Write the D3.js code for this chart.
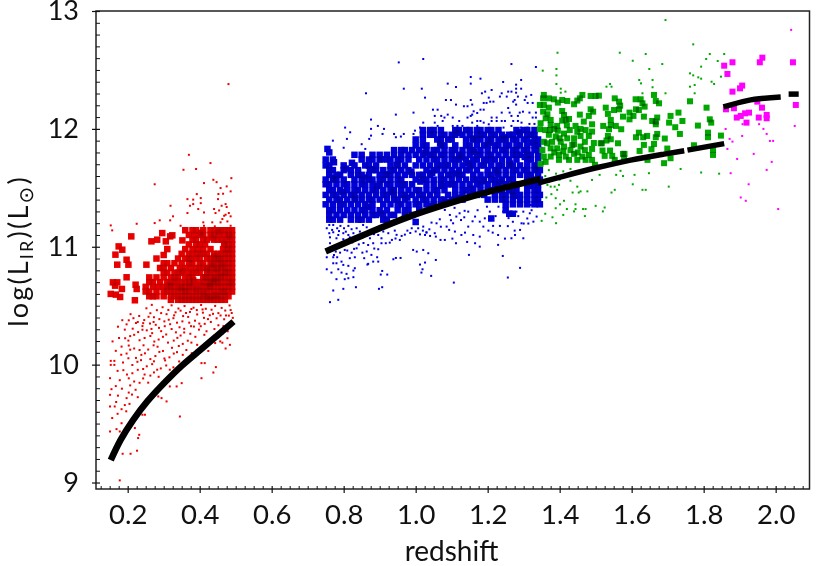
<!DOCTYPE html>
<html><head><meta charset="utf-8">
<script src="https://cdn.jsdelivr.net/npm/d3@7"></script>
<style>html,body{margin:0;background:#fff}svg{display:block}text{font-family:Lato,"Open Sans",sans-serif;fill:#111}</style>
</head><body><svg id="c" width="830" height="566"></svg>
<script>
const xMajor=[0.2,0.4,0.6,0.8,1.0,1.2,1.4,1.6,1.8,2.0];
const yMajor=[9,10,11,12,13];
const xLabel="redshift";

// Large marks listed row by row: [logL, [redshift, ...]]
const redBigRows=[
[11.14,[.36,.38,.39,.41,.43,.44,.45,.46,.47,.48,.49]],
[11.10,[.37,.385,.40,.41,.43,.44,.455,.47,.48,.49]],
[11.06,[.38,.39,.41,.42,.44,.45,.46,.475,.49]],
[11.02,[.37,.39,.40,.415,.47,.48,.49]],
[10.98,[.36,.38,.395,.41,.43,.465,.48,.49]],
[10.94,[.35,.37,.38,.40,.41,.42,.44,.45,.46,.47,.48,.49]],
[10.90,[.34,.36,.37,.39,.40,.42,.43,.44,.45,.46,.47,.48,.49]],
[10.86,[.31,.33,.35,.37,.38,.40,.41,.43,.44,.45,.46,.47,.48,.49]],
[10.82,[.29,.30,.32,.345,.36,.375,.39,.40,.41,.42,.43,.44,.45,.46,.47,.48,.49]],
[10.78,[.30,.31,.33,.34,.35,.37,.38,.39,.40,.42,.43,.44,.45,.46,.47,.48,.49]],
[10.74,[.26,.28,.30,.32,.33,.34,.36,.37,.38,.41,.42,.43,.44,.45,.46,.47,.48,.49]],
[10.70,[.26,.27,.29,.31,.32,.33,.35,.36,.37,.385,.40,.41,.42,.43,.44,.45,.46,.47,.48,.49]],
[10.66,[.25,.27,.285,.30,.31,.32,.33,.34,.35,.36,.37,.38,.39,.41,.42,.43,.44,.45,.46,.47,.48,.49]],
[10.62,[.25,.26,.28,.30,.31,.32,.33,.34,.35,.36,.37,.38,.39,.40,.41,.42,.43,.44,.45,.46,.47,.48,.49]],
[10.58,[.26,.27,.28,.30,.32,.33,.34,.35,.36,.37,.38,.39,.40,.41,.42,.43,.44,.45,.46,.47,.48]],
[10.55,[.32,.34,.35,.36,.37,.38,.39,.40,.41,.42,.43,.44,.45,.46,.47]]
];
const redBigPoints=[[.21,11.088],[.296,11.116],[.266,11.046],[.282,11.06],[.324,11.097],[.318,11.088],[.306,11.046],[.352,11.054],[.175,11.003],[.185,10.975],[.166,10.933],[.197,10.89],[.202,10.848],[.171,10.848],[.252,10.848],[.197,10.741],[.159,10.698],[.171,10.698],[.165,10.67],[.184,10.642],[.222,10.678],[.225,10.642],[.153,10.6],[.167,10.594],[.179,10.574],[.22,10.546],[.31,10.98],[.30,10.93],[.28,10.90],[.30,10.86],
[.437,10.713],[.443,10.728],[.429,10.686],[.451,10.693],[.416,10.741],[.458,10.752],[.403,10.668],[.447,10.811],[.422,10.803],[.435,10.846],[.463,10.838],[.455,10.892],[.441,10.917],[.427,10.663],[.393,10.637],[.412,10.603],[.382,10.715],[.372,10.682],[.361,10.624],[.348,10.651],[.475,10.973],[.468,11.033],[.483,11.083],[.452,11.123],[.436,11.078],[.404,11.118],[.392,10.942],[.376,10.893],[.353,10.793],[.338,10.71],[.317,10.673],[.473,10.784],[.487,10.693],[.466,10.617],[.445,10.588],[.426,10.571]];
const redSmall=[[.178,9.018],[.186,9.244],[.208,9.244],[.226,9.27],[.229,9.377],[.232,9.405],[.22,9.462],[.151,9.433],[.169,9.453],[.178,9.433],[.248,9.575],[.241,9.575],[.345,9.56],[.308,9.688],[.294,9.716],[.285,9.73],[.35,9.843],[.336,9.815],[.317,9.815],[.405,9.885],[.438,9.933],[.445,9.979],[.414,10.013],[.405,10.013],[.484,10.168],[.151,9.645],[.164,9.645],[.151,9.744],[.155,9.792],[.151,9.885],[.153,9.998],[.163,9.998],[.153,10.032],[.163,10.032],
[.355,11.653],[.275,11.53],[.438,11.568],[.447,11.548],[.412,11.54],[.488,11.582],[.475,11.512],[.458,11.498],[.452,11.447],[.465,11.45],[.486,11.47],[.392,11.447],[.366,11.404],[.382,11.4],[.403,11.413],[.382,11.362],[.403,11.37],[.451,11.404],[.472,11.362],[.461,11.348],[.475,11.337],[.319,11.348],[.373,11.348],[.396,11.32],[.44,11.32],[.454,11.308],[.412,11.291],[.366,11.286],[.444,11.286],[.326,11.258],[.468,11.263],[.486,11.258],[.318,11.224],[.289,11.224],[.41,11.207],[.435,11.207],[.458,11.207],[.225,11.195],[.275,11.201],[.153,11.181],[.347,11.178],[.412,11.178],[.477,11.215],[.486,11.178],[.157,11.139],[.442,11.173],[.463,11.235],[.481,11.286],[.472,11.272],[.48,12.38],[.37,11.78],[.43,11.71],[.39,11.66],
[.297,10.487],[.322,10.503],[.341,10.476],[.358,10.497],[.383,10.483],[.404,10.506],[.417,10.474],[.443,10.498],[.461,10.481],[.483,10.502],[.347,10.458],[.373,10.447],[.392,10.463],[.409,10.441],[.433,10.466],[.452,10.437],[.471,10.459],[.489,10.438],[.281,10.462],[.263,10.436],[.308,10.428],[.333,10.444],[.354,10.412],[.368,10.405],[.393,10.426],[.412,10.397],[.428,10.419],[.447,10.393],[.473,10.417],[.246,10.378],[.273,10.402],[.288,10.386],[.314,10.381],[.327,10.394],[.352,10.367],[.371,10.356],[.387,10.373],[.414,10.346],[.431,10.362],[.452,10.334],[.232,10.413],[.208,10.428],[.203,10.376],[.223,10.353],[.241,10.327],[.262,10.349],[.278,10.338],[.303,10.326],[.318,10.343],[.344,10.317],[.357,10.304],[.384,10.323],[.398,10.297],[.419,10.283],[.441,10.302],[.463,10.263],[.478,10.283],[.173,10.322],[.192,10.297],[.214,10.305],[.229,10.276],[.253,10.291],[.268,10.267],[.293,10.284],[.307,10.256],[.334,10.274],[.347,10.247],[.374,10.262],[.388,10.236],[.413,10.253],[.176,10.226],[.158,10.197],[.193,10.224],[.207,10.242],[.233,10.207],[.247,10.226],[.274,10.196],[.286,10.213],[.312,10.187],[.328,10.204],[.353,10.176],[.367,10.203],[.393,10.168],[.167,10.117],[.183,10.153],[.203,10.162],[.218,10.137],[.244,10.164],[.257,10.128],[.283,10.152],[.298,10.116],[.323,10.143],[.337,10.106],[.363,10.124],[.378,10.097],[.463,10.186],[.472,10.137],[.477,10.224],
[.182,10.084],[.197,10.094],[.223,10.057],[.238,10.083],[.263,10.047],[.277,10.073],[.304,10.036],[.316,10.062],[.343,10.027],[.187,10.018],[.213,9.997],[.227,10.024],[.253,9.986],[.268,10.004],[.292,9.968],[.307,9.993],[.327,9.977],[.172,9.947],[.188,9.953],[.213,9.927],[.228,9.956],[.247,9.916],[.273,9.934],[.286,9.897],[.178,9.868],[.203,9.884],[.218,9.857],[.243,9.883],[.257,9.847],[.167,9.818],[.184,9.796],[.207,9.824],[.222,9.787],[.173,9.737],[.197,9.716],[.212,9.746],[.168,9.683],[.192,9.657],[.157,9.547],[.172,9.583],[.183,9.503],[.196,9.604],
[.252,10.478],[.267,10.507],[.313,10.464],[.329,10.418],[.337,10.356],[.362,10.438],[.377,10.472],[.399,10.348],[.408,10.468],[.423,10.386],[.437,10.431],[.458,10.417],[.468,10.385],[.481,10.416],[.293,10.437],[.302,10.367],[.272,10.362],[.258,10.406],[.243,10.352],[.228,10.362],[.216,10.394],[.197,10.342],[.185,10.377],[.376,10.326],[.403,10.326],[.322,10.302],[.287,10.312],[.266,10.303],[.241,10.296],[.357,10.273],[.338,10.227],[.298,10.236],[.263,10.243],[.218,10.253],[.202,10.204],[.377,10.187],[.342,10.158],[.272,10.164],[.233,10.124],[.353,10.083],[.328,10.094],[.288,10.108],[.248,10.096],[.207,10.127],[.302,10.052],[.273,10.028],[.237,10.038],[.202,10.054],[.317,9.957],[.282,9.957],[.243,9.963],[.198,9.916],[.263,9.907],[.233,9.846],[.203,9.763],[.228,9.724],[.183,9.622],[.205,9.667],[.486,10.463],[.492,10.397],[.466,10.327],[.447,10.243],[.457,10.197],[.443,10.183],[.424,10.116]
];

const blueBigRows=[
[11.99,[1.02,1.04,1.05,1.07,1.11,1.12,1.14,1.15,1.17,1.18,1.20,1.21,1.23,1.28,1.30,1.31,1.33]],
[11.95,[1.02,1.04,1.05,1.07,1.08,1.10,1.11,1.13,1.15,1.17,1.18,1.19,1.21,1.22,1.24,1.26,1.27,1.29,1.31,1.32,1.33]],
[11.91,[1.00,1.02,1.06,1.07,1.09,1.10,1.14,1.16,1.17,1.18,1.20,1.21,1.23,1.24,1.25,1.27,1.28,1.30,1.31,1.33,1.34]],
[11.86,[1.00,1.02,1.03,1.07,1.08,1.11,1.14,1.15,1.17,1.19,1.20,1.22,1.23,1.25,1.26,1.28,1.29,1.31,1.33,1.34]],
[11.82,[.94,.96,.97,.99,1.01,1.03,1.05,1.06,1.08,1.10,1.11,1.13,1.15,1.16,1.18,1.20,1.22,1.24,1.25,1.27,1.28,1.30,1.31,1.33,1.345]],
[11.78,[.83,.85,.88,.90,.92,.94,.96,.98,1.00,1.02,1.04,1.05,1.07,1.08,1.10,1.12,1.13,1.15,1.17,1.18,1.20,1.21,1.23,1.25,1.27,1.28,1.29,1.31,1.32,1.34]],
[11.74,[.75,.77,.85,.87,.88,.90,.92,.93,.95,.96,.98,1.01,1.03,1.05,1.06,1.08,1.10,1.11,1.12,1.14,1.16,1.17,1.19,1.21,1.22,1.24,1.26,1.28,1.31,1.32,1.34]],
[11.69,[.75,.76,.80,.83,.86,.87,.89,.93,.95,.97,1.00,1.02,1.04,1.06,1.07,1.09,1.11,1.13,1.15,1.16,1.18,1.19,1.21,1.23,1.24,1.26,1.27,1.29,1.31,1.33,1.34]],
[11.65,[.76,.77,.80,.82,.84,.88,.89,.91,.93,.94,.96,.98,1.03,1.05,1.06,1.08,1.10,1.12,1.14,1.15,1.17,1.20,1.22,1.23,1.25,1.27,1.28,1.30,1.31,1.33,1.345]],
[11.61,[.76,.78,.79,.82,.84,.85,.87,.90,.92,.93,.95,.97,.99,1.01,1.02,1.04,1.07,1.09,1.10,1.12,1.13,1.16,1.18,1.20,1.21,1.23,1.25,1.27,1.29,1.31,1.32,1.34]],
[11.57,[.75,.77,.78,.80,.83,.85,.87,.88,.90,.91,.93,.95,.96,1.00,1.02,1.03,1.05,1.07,1.08,1.10,1.12,1.14,1.16,1.17,1.19,1.21,1.22,1.24,1.26,1.27,1.31,1.33,1.345]],
[11.53,[.75,.76,.78,.80,.81,.83,.85,.86,.88,.90,.92,.93,.95,.97,.99,1.03,1.05,1.07,1.09,1.10,1.11,1.13,1.15,1.17,1.18,1.20,1.22,1.23,1.25,1.27,1.28,1.31,1.33,1.34]],
[11.48,[.76,.77,.79,.81,.83,.84,.86,.88,.89,.91,.93,.94,.96,.98,1.00,1.01,1.03,1.05,1.06,1.08,1.11,1.13,1.14,1.16,1.18,1.20,1.21,1.23,1.24,1.26,1.28,1.31,1.33,1.34]],
[11.44,[.75,.77,.78,.80,.82,.83,.85,.87,.89,.91,.92,.94,.96,.97,.99,1.01,1.02,1.04,1.06,1.09,1.11,1.13,1.15,1.17,1.19,1.22,1.24,1.25,1.27,1.29,1.31,1.33,1.345]],
[11.40,[.76,.78,.79,.81,.83,.85,.87,.88,.90,.92,.94,.95,.97,1.00,1.02,1.03,1.05,1.07,1.08,1.10,1.11,1.13,1.20,1.22,1.24,1.25,1.27,1.29,1.31,1.33,1.34]],
[11.36,[.75,.77,.79,.80,.82,.84,.86,.88,.91,.93,.95,.96,.98,1.00,1.01,1.03,1.05,1.07,1.25,1.27,1.29,1.31,1.33,1.345]],
[11.31,[.76,.77,.79,.81,.83,.85,.86,.88,.90,.92,.95,.97,.98,1.01]],
[11.27,[.76,.78,.80,.82,.84,.86,.88,.89,.91,.93,.94,.97,.99]],
[11.23,[.76,.77,.79,.82,.84,.85,.87,.91,.92]]
];
const blueBigPoints=[[1.21,11.24],[1.26,11.28],[1.27,11.28],[1.0,11.21],[.755,11.83],[.76,11.8],[1.25,11.31],[1.27,11.47],
[.773,11.717],[.806,11.663],[.858,11.587],[.893,11.516],[.935,11.462],[.977,11.417],[1.013,11.553],[1.046,11.628],[1.083,11.693],[1.127,11.758],[1.163,11.803],[1.204,11.883],[1.246,11.928],[1.287,11.971],[1.325,11.884],[1.303,11.762],[1.262,11.706],[1.227,11.627],[1.187,11.556],[1.153,11.493],[1.118,11.416],[1.086,11.377],[1.044,11.344],[.903,11.283],[.868,11.339],[.832,11.412],[.797,11.466],[.772,11.587],[.823,11.712],[.905,11.742],[.947,11.694],[.988,11.637],[1.027,11.795],[1.068,11.876],[1.116,11.967],[1.158,11.918],[1.196,11.733],[1.235,11.553],[1.273,11.432],[1.316,11.517],[1.335,11.664],[.964,11.523],[.916,11.613],[.873,11.658],[1.074,11.517],[1.113,11.622],[1.146,11.708]];
const blueSmall=[[1.021,12.593],[.953,12.564],[1.266,12.55],[1.334,12.525],[1.153,12.44],[1.18,12.426],[1.293,12.415],[1.243,12.398],[1.089,12.384],[1.153,12.384],[1.112,12.355],[.967,12.341],[1.017,12.341],[1.279,12.375],[1.279,12.341],[1.293,12.341],[1.211,12.33],[1.193,12.316],[1.184,12.302],[.862,12.302],[1.257,12.316],[1.266,12.316],[1.279,12.307],[1.239,12.302],[1.321,12.288],[1.307,12.274],[1.284,12.274],[1.253,12.274],[1.234,12.274],[1.203,12.265],[1.026,12.265],[1.084,12.245],[1.098,12.245],[1.153,12.245],[1.275,12.245],[1.303,12.245],[1.216,12.231],[1.207,12.231],[1.197,12.22],[1.189,12.22],[1.271,12.231],[1.311,12.22],[1.325,12.22],[1.279,12.206],[1.157,12.206],[1.112,12.206],[1.134,12.192],[1.144,12.192],[1.257,12.177],[1.18,12.163],[1.189,12.163],[1.048,12.163],[1.061,12.163],[1.161,12.149],[.994,12.138],[.945,12.121],[1.089,12.121],[1.071,12.11],[1.053,12.11],[1.157,12.121],[1.171,12.135],[1.239,12.138],[1.261,12.138],[1.289,12.138],[1.298,12.146],[1.316,12.138],[1.334,12.138],[1.153,12.11],[1.144,12.096],[1.103,12.096],[1.08,12.096],[1.211,12.096],[1.225,12.096],[1.266,12.11],[1.284,12.11],[1.325,12.096],[1.334,12.096],[.876,12.079],[1.121,12.067],[1.075,12.067],[1.021,12.053],[1.053,12.053],[1.157,12.053],[1.171,12.067],[1.18,12.067],[1.189,12.053],[1.211,12.067],[1.225,12.067],[1.239,12.067],[1.248,12.067],[1.271,12.067],[1.284,12.067],[1.294,12.053],[1.316,12.042],[1.33,12.042],[.895,12.025],[1.103,12.025],[1.116,12.025],[1.13,12.025],[1.171,12.025],[1.203,12.039],[1.266,12.025],[1.061,12.025],[.804,12.011],[.876,12.0],[.912,12.0],[.998,11.985],[1.012,12.011],[1.23,12.0],[1.244,12.011],[1.293,12.011],[1.311,12.011],[.818,11.971],[.908,11.957],[.94,11.957],[.967,11.957],[.994,11.957],[.876,11.943],[.871,11.915],[.945,11.929],[.959,11.935],[.809,11.915],[.77,11.9],[.80,11.84],[.85,11.87],[.86,11.83],
[.753,11.157],[.76,11.185],[.771,11.185],[.782,11.157],[.791,11.177],[.801,11.157],[.813,11.177],[.822,11.149],[.836,11.157],[.854,11.185],[.864,11.165],[.76,11.115],[.771,11.123],[.785,11.1],[.799,11.115],[.813,11.1],[.827,11.115],[.845,11.129],[.859,11.115],[.878,11.137],[.762,11.08],[.78,11.072],[.799,11.064],[.817,11.08],[.836,11.08],[.854,11.092],[.873,11.072],[.896,11.1],[.91,11.129],[.924,11.115],[.942,11.137],[.753,10.911],[.771,10.911],[.782,10.911],[.778,10.959],[.79,10.95],[.803,10.973],[.822,10.95],[.836,10.987],[.852,10.95],[.868,11.015],[.882,11.03],[.905,11.072],[.905,11.03],[.896,10.979],[.877,10.931],[.893,10.911],[.896,10.874],[.868,10.855],[.882,10.874],[.831,10.911],[.817,10.903],[.794,10.874],[.78,10.86],[.771,10.86],[.799,10.846],[.813,10.838],[.831,10.818],[.827,10.798],[.753,10.809],[.766,10.781],[.785,10.809],[.794,10.781],[.808,10.77],[.827,10.742],[.813,10.733],[.803,10.725],[.78,10.725],[.834,10.657],[.799,10.643],[.771,10.629],[.785,10.55],[.762,10.53],[.907,10.795],[.903,10.764],[.921,10.764],[.898,10.643],[.907,10.657],[.866,10.849],[.938,10.894],[.945,10.905],[.958,10.905],[.857,10.903],[.928,11.035],[.956,11.058],[.993,10.973],[1.003,10.959],[1.021,10.973],[1.035,10.945],[1.056,10.888],[1.012,10.849],[1.026,10.866],[1.019,10.809],[1.016,10.781],[1.043,10.753],[1.106,10.696],[1.148,10.931],[1.242,10.922],[1.29,10.821],[1.256,10.739],[1.229,11.016],[1.178,11.001],[1.165,11.03],[1.143,11.041],[1.112,11.03],[1.102,11.069],[1.081,11.058],[1.069,11.058],[1.056,11.086],[1.04,11.092],[1.03,11.123],[1.02,11.137],[.977,11.137],[.961,11.092],[.947,11.101],[1.053,11.115],[1.03,11.12],[1.026,11.1],[1.093,11.143],[1.109,11.129],[1.127,11.1],[1.137,11.12],[1.16,11.1],[1.178,11.086],[1.202,11.137],[1.229,11.1],[1.248,11.069],[1.266,11.072],[1.275,11.137],[1.276,11.1],[1.299,11.072],[1.3,11.197],[1.313,11.197],[1.327,11.213],[1.29,11.143],[1.215,11.177],[1.234,11.177],[1.188,11.171],[1.146,11.171],[1.126,11.227],[1.104,11.199],[1.086,11.171],[1.058,11.199],[1.044,11.205],[1.021,11.171],[1.007,11.157],[.989,11.157],[1.067,11.233],[1.081,11.312],[1.095,11.27],[1.113,11.256],[1.122,11.284],[1.146,11.298],[1.165,11.256],[1.178,11.213],[1.192,11.241],[1.206,11.298],[1.23,11.34],[1.243,11.298],[1.28,11.298],[1.299,11.298],[1.32,11.355],[1.317,11.284],[1.336,11.256],[1.294,11.199],
[.768,11.143],[.787,11.133],[.806,11.128],[.843,11.087],[.866,11.096],[.884,11.107],[.762,11.03],[.775,11.0],[.79,11.013],[.808,11.024],[.824,11.037],[.842,11.02],[.855,11.032],[.773,10.93],[.81,10.968],[.829,10.982],[.864,10.96],[.885,10.985],[.917,11.03],[.934,11.058],[.944,11.07],[.97,11.103],[.985,11.117],[1.0,11.13],[1.012,11.105],[1.038,11.148],[1.07,11.17],[1.098,11.225],[1.135,11.25],[1.158,11.216],[1.208,11.225],[1.222,11.26],[1.258,11.243],[1.27,11.212],[1.285,11.26],[1.31,11.24],[1.322,11.31],[1.214,11.12],[1.256,11.175],[1.108,11.33],[1.136,11.305],[1.172,11.31],[1.198,11.34]];

const greenBig=[[1.356,12.288],[1.354,12.259],[1.37,12.259],[1.384,12.251],[1.395,12.223],[1.407,12.245],[1.421,12.237],[1.44,12.209],[1.449,12.24],[1.456,12.259],[1.463,12.288],[1.486,12.279],[1.5,12.279],[1.509,12.282],[1.553,12.259],[1.565,12.231],[1.568,12.197],[1.551,12.16],[1.565,12.166],[1.611,12.251],[1.625,12.251],[1.63,12.217],[1.636,12.189],[1.62,12.16],[1.612,12.166],[1.662,12.288],[1.667,12.237],[1.676,12.217],[1.762,12.234],[1.808,12.18],[1.345,12.203],[1.356,12.203],[1.37,12.18],[1.354,12.146],[1.366,12.124],[1.407,12.152],[1.412,12.118],[1.426,12.084],[1.456,12.121],[1.486,12.166],[1.493,12.146],[1.481,12.11],[1.528,12.18],[1.534,12.127],[1.542,12.076],[1.576,12.104],[1.594,12.138],[1.605,12.11],[1.594,12.081],[1.634,12.104],[1.671,12.096],[1.667,12.062],[1.657,12.067],[1.708,12.11],[1.73,12.138],[1.704,12.053],[1.741,12.067],[1.817,12.081],[1.821,12.053],[1.784,12.028],[1.721,12.014],[1.667,12.039],[1.734,11.957],[1.812,11.968],[1.812,11.929],[1.848,11.943],[1.692,11.918],[1.671,11.957],[1.667,11.929],[1.643,11.94],[1.62,11.968],[1.612,11.929],[1.632,11.929],[1.634,11.864],[1.662,11.872],[1.699,11.833],[1.655,11.827],[1.622,11.813],[1.576,11.788],[1.571,11.997],[1.556,12.025],[1.542,12.033],[1.537,11.997],[1.521,12.025],[1.534,11.94],[1.542,11.912],[1.53,11.901],[1.562,11.878],[1.517,11.878],[1.519,11.816],[1.54,11.816],[1.525,11.771],[1.546,11.771],[1.553,11.737],[1.58,11.788],[1.579,11.751],[1.644,11.737],[1.69,11.709],[1.708,11.751],[1.826,11.822],[1.826,11.779],[1.773,11.861],[1.498,11.695],
[1.347,12.048],[1.345,11.997],[1.361,12.09],[1.375,12.076],[1.375,12.033],[1.373,11.99],[1.393,12.025],[1.407,12.07],[1.417,12.076],[1.444,12.025],[1.467,12.062],[1.49,12.039],[1.49,11.977],[1.458,12.0],[1.472,11.99],[1.449,11.975],[1.428,11.99],[1.395,11.985],[1.412,11.96],[1.389,11.935],[1.37,11.95],[1.356,11.89],[1.365,11.878],[1.379,11.89],[1.403,11.89],[1.421,11.92],[1.44,11.92],[1.458,11.94],[1.481,11.94],[1.495,11.88],[1.514,11.878],[1.352,11.82],[1.375,11.835],[1.393,11.835],[1.412,11.85],[1.435,11.864],[1.458,11.85],[1.356,11.765],[1.375,11.765],[1.398,11.78],[1.417,11.765],[1.44,11.788],[1.463,11.765],[1.481,11.779],[1.361,11.72],[1.398,11.737],[1.426,11.737],[1.449,11.737],[1.472,11.737],[1.49,11.737],[1.347,11.703],[1.385,11.8],[1.41,11.81],[1.43,11.82],[1.45,11.8],[1.47,11.82],[1.49,11.83],[1.36,11.99],[1.385,12.0],[1.42,12.03],[1.44,11.87],[1.47,11.89],[1.4,11.92]];
const greenSmall=[[1.694,12.923],[1.771,12.717],[1.394,12.646],[1.567,12.646],[1.639,12.635],[1.817,12.635],[1.857,12.635],[1.807,12.593],[1.839,12.576],[1.603,12.578],[1.685,12.55],[1.793,12.528],[1.649,12.508],[1.391,12.508],[1.353,12.494],[1.391,12.454],[1.762,12.471],[1.771,12.454],[1.785,12.437],[1.793,12.426],[1.848,12.443],[1.621,12.415],[1.658,12.415],[1.822,12.4],[1.829,12.381],[1.626,12.386],[1.391,12.381],[1.54,12.381],[1.544,12.358],[1.53,12.358],[1.658,12.353],[1.762,12.358],[1.775,12.372],[1.403,12.341],[1.416,12.316],[1.403,12.307],[1.63,12.302],[1.694,12.302],[1.775,12.302],[1.736,11.66],[1.793,11.63],[1.843,11.62],[1.648,11.624],[1.608,11.61],[1.557,11.61],[1.569,11.644],[1.511,11.61],[1.49,11.567],[1.576,11.6],[1.603,11.53],[1.703,11.51],[1.63,11.483],[1.639,11.483],[1.553,11.483],[1.544,11.46],[1.477,11.47],[1.458,11.47],[1.453,11.46],[1.436,11.46],[1.449,11.51],[1.398,11.525],[1.386,11.51],[1.375,11.51],[1.366,11.525],[1.393,11.483],[1.377,11.446],[1.363,11.418],[1.389,11.412],[1.412,11.39],[1.401,11.36],[1.444,11.36],[1.5,11.347],[1.525,11.333],[1.349,11.375],[1.389,11.327],[1.42,11.32],[1.444,11.32],[1.465,11.32],[1.472,11.32],[1.36,11.28],[1.38,11.25],[1.41,11.27],[1.44,11.3],[1.47,11.26],[1.35,11.22],[1.39,11.2],[1.52,11.3],[1.36,11.6],[1.37,11.65],[1.39,11.62],[1.41,11.64],[1.43,11.66],[1.45,11.62],[1.47,11.65],[1.37,11.55],[1.40,11.57],[1.43,11.56]];

const magentaBig=[[1.963,12.604],[1.956,12.565],[1.88,12.565],[1.857,12.536],[2.048,12.565],[1.866,12.466],[1.907,12.367],[1.901,12.344],[1.88,12.316],[1.949,12.231],[1.862,12.166],[1.884,12.175],[1.962,12.18],[2.056,12.203],[1.926,12.138],[1.915,12.132],[1.903,12.11],[1.892,12.096],[1.953,12.096],[1.975,12.118],[1.975,12.09],[1.919,12.053]];
const magentaSmall=[[2.043,12.84],[1.861,11.999],[1.872,11.915],[1.88,11.892],[1.866,11.83],[1.893,11.745],[1.907,11.94],[1.908,12.04],[1.954,12.04],[1.966,12.0],[1.975,11.957],[1.984,11.898],[1.993,11.898],[1.939,11.788],[1.989,11.72],[1.975,11.652],[1.875,11.624],[1.925,11.53],[1.903,11.418],[1.917,11.39],[2.007,11.32],[2.053,12.025]];

const curveLow=[[.153,9.19],[.18,9.36],[.215,9.53],[.255,9.69],[.30,9.84],[.35,9.99],[.40,10.12],[.45,10.25],[.494,10.365]];
const curveMid=[[.75,10.96],[.875,11.125],[.986,11.26],[1.079,11.355],[1.171,11.44],[1.264,11.515],[1.347,11.576]];
const curveHigh=[[1.34,11.54],[1.412,11.6],[1.505,11.672],[1.597,11.735],[1.69,11.786],[1.746,11.814]];
const curveHigh2=[[1.755,11.82],[1.857,11.875]];
const curveTop=[[1.855,12.186],[1.921,12.24],[2.014,12.27]];
const curveLast=[[2.036,12.295],[2.064,12.295]];

const svg=d3.select("#c");
const x=d3.scaleLinear().domain([0.112,2.094]).range([96,809.5]);
const y=d3.scaleLinear().domain([13,8.945]).range([11,489]);

function marks(name,colour,size,rows,points){
  const data=[...rows.flatMap(([l,zs])=>zs.map(z=>[z,l])),...points];
  svg.append("g").attr("class",name).style("isolation","isolate")
    .selectAll("rect").data(data).join("rect")
    .attr("x",d=>x(d[0])-size/2).attr("y",d=>y(d[1])-size/2)
    .attr("width",size).attr("height",size).attr("fill",colour)
    .style("mix-blend-mode","multiply");
}
marks("rs","#ee0000",2,[],redSmall);
marks("bs","#0000e6",2,[],blueSmall);
marks("gs","#00aa00",2,[],greenSmall);
marks("ms","#ff00ff",2,[],magentaSmall);
marks("rb","#e60000",6.5,redBigRows,redBigPoints);
marks("bb","#0000dc",6.5,blueBigRows,blueBigPoints);
marks("gb","#00a800",6,[],greenBig);
marks("mb","#ff00ff",6,[],magentaBig);

const line=d3.line().x(d=>x(d[0])).y(d=>y(d[1]));
[curveLow,curveMid].forEach(c=>{
  svg.append("path").attr("d",line.curve(d3.curveNatural)(c)).attr("fill","none").attr("stroke","#000").attr("stroke-width",6.5);
});
[curveHigh,curveHigh2,curveTop,curveLast].forEach(c=>{
  svg.append("path").attr("d",line.curve(d3.curveMonotoneX)(c)).attr("fill","none").attr("stroke","#000").attr("stroke-width",5.5);
});

const xMinor=d3.range(0.125,2.09,0.025).filter(v=>Math.abs(v/0.2-Math.round(v/0.2))>1e-6);
const yMinor=d3.range(9,13.01,0.1).filter(v=>Math.abs(v-Math.round(v))>1e-6);

svg.append("rect").attr("x",96).attr("y",11).attr("width",713.5).attr("height",478)
  .attr("fill","none").attr("stroke","#222").attr("stroke-width",1.5);

const axB=svg.append("g").attr("transform","translate(0,489)")
  .call(d3.axisBottom(x).tickValues(xMajor).tickFormat(d3.format(".1f")).tickSize(4).tickPadding(11));
axB.select(".domain").remove();
axB.selectAll(".tick line").attr("y1",-3).attr("stroke","#111").attr("stroke-width",1.2);
axB.selectAll("text").attr("font-size",27.5);
const axBm=svg.append("g").attr("transform","translate(0,489)")
  .call(d3.axisTop(x).tickValues(xMinor).tickFormat("").tickSize(3));
axBm.select(".domain").remove();
axBm.selectAll("line").attr("stroke","#111").attr("stroke-width",1);

const axL=svg.append("g").attr("transform","translate(96,0)")
  .call(d3.axisLeft(y).tickValues(yMajor).tickFormat(d3.format("d")).tickSize(4).tickPadding(13));
axL.select(".domain").remove();
axL.selectAll(".tick line").attr("x1",4).attr("stroke","#111").attr("stroke-width",1.2);
axL.selectAll("text").attr("font-size",27);
const axLm=svg.append("g").attr("transform","translate(96,0)")
  .call(d3.axisRight(y).tickValues(yMinor).tickFormat("").tickSize(4));
axLm.select(".domain").remove();
axLm.selectAll("line").attr("stroke","#111").attr("stroke-width",1);

svg.append("text").attr("x",451.5).attr("y",561).attr("text-anchor","middle").attr("font-size",28).text(xLabel);

const yl=svg.append("text").attr("transform","translate(28,251) rotate(-90)").attr("text-anchor","middle").attr("font-size",27).attr("letter-spacing",2.2);
yl.append("tspan").text("log(L");
yl.append("tspan").attr("font-size",18).attr("dy",5).text("IR");
yl.append("tspan").attr("dy",-5).text(")(L");
yl.append("tspan").attr("font-size",20).attr("dy",5).style("font-family","DejaVu Sans").text("\u2299");
yl.append("tspan").attr("dy",-5).text(")");
</script></body></html>
